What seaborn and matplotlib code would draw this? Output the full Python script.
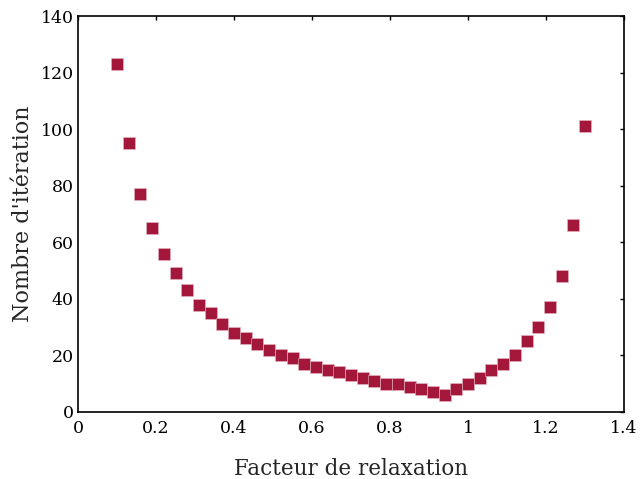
import matplotlib
matplotlib.use("Agg")
import matplotlib.pyplot as plt
import seaborn as sns
import pandas as pd

relaxation = [0.10, 0.13, 0.16, 0.19, 0.22, 0.25, 0.28, 0.31, 0.34, 0.37,
              0.40, 0.43, 0.46, 0.49, 0.52, 0.55, 0.58, 0.61, 0.64, 0.67,
              0.70, 0.73, 0.76, 0.79, 0.82, 0.85, 0.88, 0.91, 0.94, 0.97,
              1.00, 1.03, 1.06, 1.09, 1.12, 1.15, 1.18, 1.21, 1.24, 1.27, 1.30]
iterations = [123, 95, 77, 65, 56, 49, 43, 38, 35, 31,
              28, 26, 24, 22, 20, 19, 17, 16, 15, 14,
              13, 12, 11, 10, 10, 9, 8, 7, 6, 8,
              10, 12, 15, 17, 20, 25, 30, 37, 48, 66, 101]
x_ticks = [0, 0.2, 0.4, 0.6, 0.8, 1, 1.2, 1.4]
x_labels = ["0", "0.2", "0.4", "0.6", "0.8", "1", "1.2", "1.4"]
y_ticks = [0, 20, 40, 60, 80, 100, 120, 140]

df = pd.DataFrame({"x": relaxation, "y": iterations})

sns.set_style("white")
plt.rcParams["font.family"] = ["DejaVu Serif"]

fig = plt.figure(figsize=(6.4, 4.79), dpi=100)
ax = fig.add_axes([78 / 640, 1 - 412 / 479, (624 - 78) / 640, (412 - 16) / 479])
sns.scatterplot(data=df, x="x", y="y", ax=ax, marker="s", s=70,
                color="#A3173A", edgecolor="#E8B8C2", linewidth=0.4, zorder=3)
ax.set_xlim(0, 1.4)
ax.set_ylim(0, 140)
ax.set_xticks(x_ticks)
ax.set_xticklabels(x_labels)
ax.set_yticks(y_ticks)
ax.tick_params(axis="both", direction="in", length=3, width=1, top=True, right=True,
               labelsize=12.5, colors="black")
ax.tick_params(axis="x", pad=6)
ax.tick_params(axis="y", pad=3)
for s in ax.spines.values():
    s.set_color("black")
    s.set_linewidth(1.2)
ax.set_xlabel("Facteur de relaxation", fontsize=15.5, labelpad=15)
ax.set_ylabel("Nombre d'itération", fontsize=16, labelpad=5)
fig.savefig("out.png", dpi=100)
